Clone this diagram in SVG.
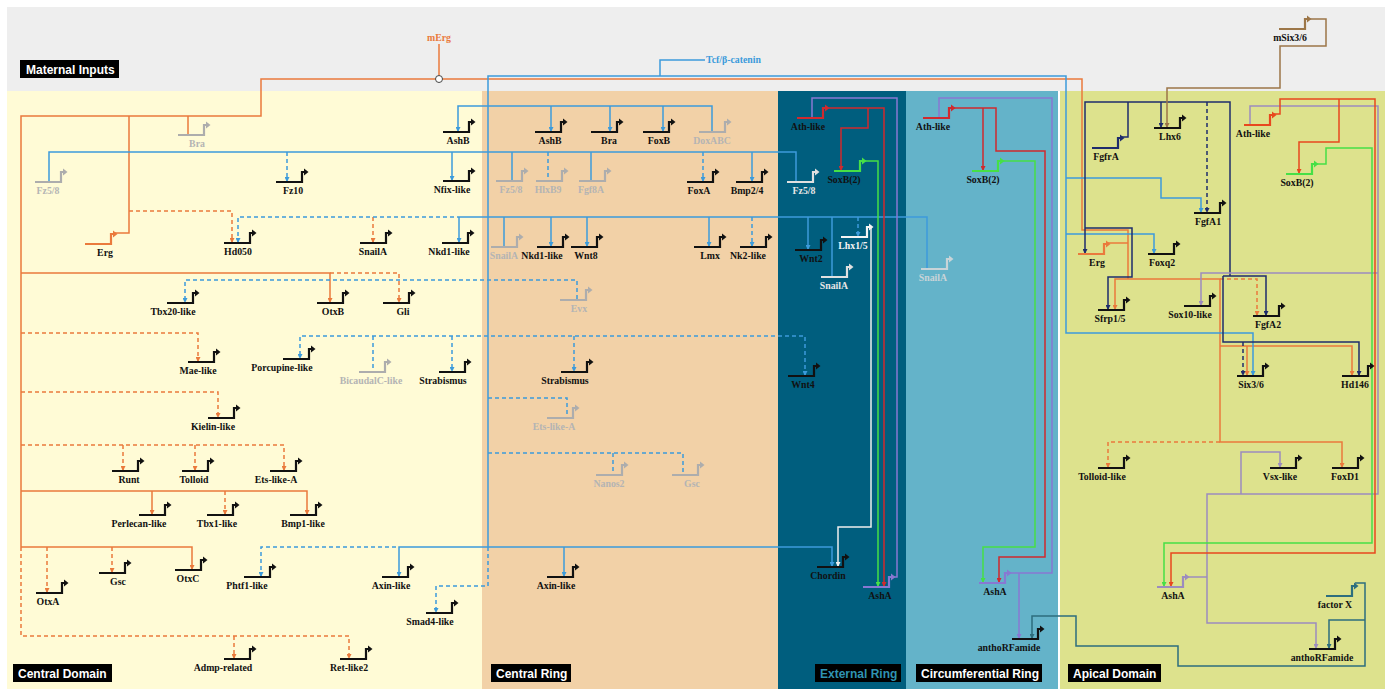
<svg xmlns="http://www.w3.org/2000/svg" xmlns:xlink="http://www.w3.org/1999/xlink" width="1385" height="689" viewBox="0 0 1385 689">
<style>
#connectors path{fill:none;stroke-width:1.5}
.d{stroke-dasharray:4 3}
.o{stroke:#EA7A3C}.b{stroke:#3C9BDB}.n{stroke:#1E2C6C}.br{stroke:#9C7648}.pg{stroke:#9C8CBE}
.ar{stroke:#E8481E}.g{stroke:#46E046}.r{stroke:#D02A2E}.p{stroke:#8878D2}.w{stroke:#EEEEEE}.t{stroke:#2D6E7E}
.lb{font-family:"Liberation Serif",serif;font-weight:bold;font-size:9.8px;text-anchor:middle;fill:#111}
.gl{fill:#B4B4B4}.wl{fill:#E6E6E6}
.box{fill:#000}
.bt{font-family:"Liberation Sans",Arial,sans-serif;font-weight:bold;font-size:12px;fill:#fff}
</style>
<defs>
<g id="pr"><path d="M-26,0H0V-10H2.5" fill="none" stroke="currentColor" stroke-width="2.2"/><path d="M2,-13.5L6.5,-10L2,-6.5Z" fill="currentColor"/></g>
<marker id="mo" viewBox="0 0 6 6" refX="6" refY="3" markerWidth="5" markerHeight="5" markerUnits="userSpaceOnUse" orient="auto-start-reverse"><path d="M0,0L6,3L0,6Z" fill="#EA7A3C"/></marker>
<marker id="mb" viewBox="0 0 6 6" refX="6" refY="3" markerWidth="5" markerHeight="5" markerUnits="userSpaceOnUse" orient="auto-start-reverse"><path d="M0,0L6,3L0,6Z" fill="#3C9BDB"/></marker>
<marker id="mn" viewBox="0 0 6 6" refX="6" refY="3" markerWidth="5" markerHeight="5" markerUnits="userSpaceOnUse" orient="auto-start-reverse"><path d="M0,0L6,3L0,6Z" fill="#1E2C6C"/></marker>
<marker id="mbr" viewBox="0 0 6 6" refX="6" refY="3" markerWidth="5" markerHeight="5" markerUnits="userSpaceOnUse" orient="auto-start-reverse"><path d="M0,0L6,3L0,6Z" fill="#9C7648"/></marker>
<marker id="mpg" viewBox="0 0 6 6" refX="6" refY="3" markerWidth="5" markerHeight="5" markerUnits="userSpaceOnUse" orient="auto-start-reverse"><path d="M0,0L6,3L0,6Z" fill="#9C8CBE"/></marker>
<marker id="mar" viewBox="0 0 6 6" refX="6" refY="3" markerWidth="5" markerHeight="5" markerUnits="userSpaceOnUse" orient="auto-start-reverse"><path d="M0,0L6,3L0,6Z" fill="#E8481E"/></marker>
<marker id="mg" viewBox="0 0 6 6" refX="6" refY="3" markerWidth="5" markerHeight="5" markerUnits="userSpaceOnUse" orient="auto-start-reverse"><path d="M0,0L6,3L0,6Z" fill="#46E046"/></marker>
<marker id="mr" viewBox="0 0 6 6" refX="6" refY="3" markerWidth="5" markerHeight="5" markerUnits="userSpaceOnUse" orient="auto-start-reverse"><path d="M0,0L6,3L0,6Z" fill="#D02A2E"/></marker>
<marker id="mp" viewBox="0 0 6 6" refX="6" refY="3" markerWidth="5" markerHeight="5" markerUnits="userSpaceOnUse" orient="auto-start-reverse"><path d="M0,0L6,3L0,6Z" fill="#8878D2"/></marker>
<marker id="mw" viewBox="0 0 6 6" refX="6" refY="3" markerWidth="5" markerHeight="5" markerUnits="userSpaceOnUse" orient="auto-start-reverse"><path d="M0,0L6,3L0,6Z" fill="#EEEEEE"/></marker>
<marker id="mt" viewBox="0 0 6 6" refX="6" refY="3" markerWidth="5" markerHeight="5" markerUnits="userSpaceOnUse" orient="auto-start-reverse"><path d="M0,0L6,3L0,6Z" fill="#2D6E7E"/></marker>
</defs>

<g id="background">
<rect x="0" y="0" width="1385" height="689" fill="#FFFFFF"/>
<rect x="7" y="7" width="1378" height="84" fill="#EEEEEE"/>
<rect x="7" y="91" width="475" height="598" fill="#FFFBD6"/>
<rect x="482" y="91" width="296" height="598" fill="#F2D1A7"/>
<rect x="778" y="91" width="128" height="598" fill="#005E7E"/>
<rect x="906" y="91" width="152" height="598" fill="#64B3C9"/>
<rect x="1060" y="91" width="325" height="598" fill="#DDE28D"/>
</g>

<g id="region-labels">
<rect class="box" x="20" y="60" width="99" height="18"/><text class="bt" x="26" y="74">Maternal Inputs</text>
<rect class="box" x="13" y="664" width="99" height="18"/><text class="bt" x="18" y="678">Central Domain</text>
<rect class="box" x="491" y="664" width="80" height="18"/><text class="bt" x="496" y="678">Central Ring</text>
<rect class="box" x="815" y="664" width="86" height="18"/><text class="bt" x="820" y="678" style="fill:#2F93B2">External Ring</text>
<rect class="box" x="916" y="664" width="126" height="18"/><text class="bt" x="921" y="678">Circumferential Ring</text>
<rect class="box" x="1068" y="664" width="93" height="18"/><text class="bt" x="1073" y="678">Apical Domain</text>
</g>

<g id="connectors">
<!-- orange -->
<path class="o" d="M439,44V75.5"/>
<path class="o" d="M21,547V116H261V79H1082V230H1128V279"/>
<path class="o" d="M188,116V134"/>
<path class="o" d="M113,233H129V116"/>
<path class="o d" d="M129,211H232V243" marker-end="url(#mo)"/>
<path class="o d" d="M373,217V243" marker-end="url(#mo)"/>
<path class="o" d="M21,273H330V303" marker-end="url(#mo)"/>
<path class="o d" d="M330,273H399V303" marker-end="url(#mo)"/>
<path class="o d" d="M21,333H198V362" marker-end="url(#mo)"/>
<path class="o d" d="M21,392H218V418" marker-end="url(#mo)"/>
<path class="o d" d="M21,445H284V471" marker-end="url(#mo)"/>
<path class="o d" d="M123,445V471" marker-end="url(#mo)"/>
<path class="o d" d="M195,445V471" marker-end="url(#mo)"/>
<path class="o" d="M21,491H307V515" marker-end="url(#mo)"/>
<path class="o" d="M152,491V515" marker-end="url(#mo)"/>
<path class="o d" d="M225,491V515" marker-end="url(#mo)"/>
<path class="o" d="M21,547H192V570" marker-end="url(#mo)"/>
<path class="o d" d="M47,547V593" marker-end="url(#mo)"/>
<path class="o d" d="M112,547V573" marker-end="url(#mo)"/>
<path class="o d" d="M21,547V636H349V659" marker-end="url(#mo)"/>
<path class="o d" d="M234,636V659" marker-end="url(#mo)"/>
<path class="o" d="M1107,243H1128"/>
<path class="o" d="M1128,279H1115V310" marker-end="url(#mo)"/>
<path class="o" d="M1128,279H1220V442H1342V468" marker-end="url(#mo)"/>
<path class="o d" d="M1220,442H1108V468" marker-end="url(#mo)"/>
<path class="o d" d="M1220,279H1257V316" marker-end="url(#mo)"/>
<path class="o" d="M1220,346H1352V376" marker-end="url(#mo)"/>
<path class="o" d="M1247,346V376" marker-end="url(#mo)"/>
<!-- blue -->
<path class="b" d="M705,60H660V76"/>
<path class="b" d="M488,547V76H1066V333H1253V376" marker-end="url(#mb)"/>
<path class="b" d="M1066,178H1161V198H1201V213" marker-end="url(#mb)"/>
<path class="b" d="M1066,234H1154V254" marker-end="url(#mb)"/>
<path class="b" d="M712,131V106H458V132" marker-end="url(#mb)"/>
<path class="b" d="M551,106V132" marker-end="url(#mb)"/>
<path class="b" d="M610,106V132" marker-end="url(#mb)"/>
<path class="b" d="M663,106V132" marker-end="url(#mb)"/>
<path class="b" d="M49,181V152H796V181"/>
<path class="b d" d="M287,152V182" marker-end="url(#mb)"/>
<path class="b" d="M452,152V181" marker-end="url(#mb)"/>
<path class="b" d="M512,152V181"/>
<path class="b d" d="M548,152V181"/>
<path class="b" d="M591,152V181"/>
<path class="b d" d="M703,152V182" marker-end="url(#mb)"/>
<path class="b" d="M752,152V182" marker-end="url(#mb)"/>
<path class="b d" d="M238,243V217H459" marker-start="url(#mb)"/>
<path class="b" d="M459,217H927V268"/>
<path class="b" d="M459,217V243" marker-end="url(#mb)"/>
<path class="b" d="M504,217V246"/>
<path class="b" d="M551,217V247" marker-end="url(#mb)"/>
<path class="b" d="M587,217V247" marker-end="url(#mb)"/>
<path class="b" d="M709,217V247" marker-end="url(#mb)"/>
<path class="b d" d="M752,217V247" marker-end="url(#mb)"/>
<path class="b" d="M808,217V250" marker-end="url(#mb)"/>
<path class="b" d="M832,217V276"/>
<path class="b d" d="M858,217V237" marker-end="url(#mb)"/>
<path class="b d" d="M577,299V280H185V303" marker-end="url(#mb)"/>
<path class="b d" d="M805,376V336H300V359" marker-start="url(#mb)" marker-end="url(#mb)"/>
<path class="b d" d="M373,336V371"/>
<path class="b d" d="M452,336V372" marker-end="url(#mb)"/>
<path class="b d" d="M574,336V372" marker-end="url(#mb)"/>
<path class="b d" d="M488,398H567V417"/>
<path class="b d" d="M488,453H683V474"/>
<path class="b d" d="M613,453V474"/>
<path class="b d" d="M261,577V547H399" marker-start="url(#mb)"/>
<path class="b" d="M399,577V547H832V567" marker-start="url(#mb)" marker-end="url(#mb)"/>
<path class="b" d="M564,547V577" marker-end="url(#mb)"/>
<path class="b d" d="M488,547V586H436V613" marker-end="url(#mb)"/>
<!-- navy -->
<path class="n" d="M1085,254V102H1230V276" marker-start="url(#mn)"/>
<path class="n" d="M1121,137H1128V102"/>
<path class="n" d="M1161,102V128" marker-end="url(#mn)"/>
<path class="n d" d="M1207,102V213" marker-end="url(#mn)"/>
<path class="n" d="M1085,228H1132V277H1108V310" marker-end="url(#mn)"/>
<path class="n" d="M1223,276H1266V316" marker-end="url(#mn)"/>
<path class="n" d="M1223,276V342H1359V376" marker-end="url(#mn)"/>
<path class="n d" d="M1243,342V376" marker-end="url(#mn)"/>
<!-- brown -->
<path class="br" d="M1308,19H1326V46H1280V88H1167V128" marker-end="url(#mbr)"/>
<!-- purple-grey apical -->
<path class="pg" d="M1250,124V106H1378V494H1207V623H1316V649" marker-end="url(#mpg)"/>
<path class="pg" d="M1378,273H1201V306" marker-end="url(#mpg)"/>
<path class="pg" d="M1241,494V452H1280V468" marker-end="url(#mpg)"/>
<path class="pg" d="M1186,577H1207"/>
<!-- apical red -->
<path class="ar" d="M1273,114H1280V99H1375V553H1171V587" marker-end="url(#mar)"/>
<path class="ar" d="M1339,99V142H1299V174" marker-end="url(#mar)"/>
<!-- green -->
<path class="g" d="M1315,164H1326V148H1372V543H1164V587" marker-end="url(#mg)"/>
<path class="g" d="M863,161H878V587" marker-end="url(#mg)"/>
<path class="g" d="M1001,161H1035V547H983V583" marker-end="url(#mg)"/>
<!-- red -->
<path class="r" d="M826,108H884V587" marker-end="url(#mr)"/>
<path class="r" d="M868,108V128H841V171" marker-end="url(#mr)"/>
<path class="r" d="M952,108H996V151H1045V557H999V583" marker-end="url(#mr)"/>
<path class="r" d="M983,108V171" marker-end="url(#mr)"/>
<!-- purple -->
<path class="p" d="M892,577H897V98H812V117"/>
<path class="p" d="M1008,573H1052V98H939V117"/>
<path class="p" d="M1019,573V639" marker-end="url(#mp)"/>
<!-- white -->
<path class="w" d="M870,227H871V527H838V567" marker-end="url(#mw)"/>
<!-- teal -->
<path class="t" d="M1355,583H1365V666H1178V646H1076V616H1032V639" marker-end="url(#mt)"/>
<path class="t" d="M1365,620H1329V649" marker-end="url(#mt)"/>
<circle cx="439" cy="79" r="3.5" fill="#fff" stroke="#444" stroke-width="1"/>
</g>

<g id="maternal">
<text class="lb" x="439" y="41" style="fill:#EA7A3C">mErg</text>
<text class="lb" x="706" y="63" style="fill:#3C9BDB;text-anchor:start">Tcf/β-catenin</text>
<g id="n-mSix36"><use href="#pr" x="1305" y="29" color="#9C7648"/><text class="lb" x="1290" y="41">mSix3/6</text></g>
</g>

<g id="central-domain">
<g id="n-Bra1"><use href="#pr" x="204" y="135" color="#ADADAD"/><text class="lb gl" x="197" y="147">Bra</text></g>
<g id="n-Fz58a"><use href="#pr" x="61" y="182" color="#ADADAD"/><text class="lb gl" x="48" y="194">Fz5/8</text></g>
<g id="n-Fz10"><use href="#pr" x="302" y="182" color="#111"/><text class="lb" x="293" y="194">Fz10</text></g>
<g id="n-AshB1"><use href="#pr" x="469" y="132" color="#111"/><text class="lb" x="458" y="144">AshB</text></g>
<g id="n-Nfix"><use href="#pr" x="469" y="181" color="#111"/><text class="lb" x="452" y="193">Nfix-like</text></g>
<g id="n-Erg1"><use href="#pr" x="111" y="244" color="#EA7A3C"/><text class="lb" x="105" y="256">Erg</text></g>
<g id="n-Hd050"><use href="#pr" x="250" y="243" color="#111"/><text class="lb" x="238" y="255">Hd050</text></g>
<g id="n-SnailA1"><use href="#pr" x="386" y="243" color="#111"/><text class="lb" x="373" y="255">SnailA</text></g>
<g id="n-Nkd1a"><use href="#pr" x="468" y="243" color="#111"/><text class="lb" x="449" y="255">Nkd1-like</text></g>
<g id="n-Tbx20"><use href="#pr" x="193" y="303" color="#111"/><text class="lb" x="173" y="315">Tbx20-like</text></g>
<g id="n-OtxB"><use href="#pr" x="343" y="303" color="#111"/><text class="lb" x="333" y="315">OtxB</text></g>
<g id="n-Gli"><use href="#pr" x="409" y="303" color="#111"/><text class="lb" x="403" y="315">Gli</text></g>
<g id="n-Mae"><use href="#pr" x="214" y="362" color="#111"/><text class="lb" x="198" y="374">Mae-like</text></g>
<g id="n-Porc"><use href="#pr" x="309" y="359" color="#111"/><text class="lb" x="282" y="371">Porcupine-like</text></g>
<g id="n-BicC"><use href="#pr" x="385" y="372" color="#ADADAD"/><text class="lb gl" x="371" y="384">BicaudalC-like</text></g>
<g id="n-Strab1"><use href="#pr" x="465" y="372" color="#111"/><text class="lb" x="443" y="384">Strabismus</text></g>
<g id="n-Kielin"><use href="#pr" x="234" y="418" color="#111"/><text class="lb" x="213" y="430">Kielin-like</text></g>
<g id="n-Runt"><use href="#pr" x="138" y="471" color="#111"/><text class="lb" x="129" y="483">Runt</text></g>
<g id="n-Tolloid"><use href="#pr" x="208" y="471" color="#111"/><text class="lb" x="194" y="483">Tolloid</text></g>
<g id="n-EtsA1"><use href="#pr" x="296" y="471" color="#111"/><text class="lb" x="276" y="483">Ets-like-A</text></g>
<g id="n-Perl"><use href="#pr" x="165" y="515" color="#111"/><text class="lb" x="139" y="527">Perlecan-like</text></g>
<g id="n-Tbx1"><use href="#pr" x="233" y="515" color="#111"/><text class="lb" x="217" y="527">Tbx1-like</text></g>
<g id="n-Bmp1"><use href="#pr" x="316" y="515" color="#111"/><text class="lb" x="303" y="527">Bmp1-like</text></g>
<g id="n-OtxA"><use href="#pr" x="62" y="593" color="#111"/><text class="lb" x="48" y="605">OtxA</text></g>
<g id="n-Gsc1"><use href="#pr" x="125" y="573" color="#111"/><text class="lb" x="118" y="585">Gsc</text></g>
<g id="n-OtxC"><use href="#pr" x="201" y="570" color="#111"/><text class="lb" x="188" y="582">OtxC</text></g>
<g id="n-Phtf1"><use href="#pr" x="270" y="577" color="#111"/><text class="lb" x="247" y="589">Phtf1-like</text></g>
<g id="n-Axin1"><use href="#pr" x="408" y="577" color="#111"/><text class="lb" x="391" y="589">Axin-like</text></g>
<g id="n-Smad4"><use href="#pr" x="452" y="613" color="#111"/><text class="lb" x="430" y="625">Smad4-like</text></g>
<g id="n-Admp"><use href="#pr" x="250" y="659" color="#111"/><text class="lb" x="223" y="671">Admp-related</text></g>
<g id="n-Ret"><use href="#pr" x="366" y="659" color="#111"/><text class="lb" x="349" y="671">Ret-like2</text></g>
</g>

<g id="central-ring">
<g id="n-AshB2"><use href="#pr" x="561" y="132" color="#111"/><text class="lb" x="550" y="144">AshB</text></g>
<g id="n-Bra2"><use href="#pr" x="617" y="132" color="#111"/><text class="lb" x="609" y="144">Bra</text></g>
<g id="n-FoxB"><use href="#pr" x="669" y="132" color="#111"/><text class="lb" x="659" y="144">FoxB</text></g>
<g id="n-DoxABC"><use href="#pr" x="725" y="132" color="#ADADAD"/><text class="lb gl" x="712" y="144">DoxABC</text></g>
<g id="n-Fz58b"><use href="#pr" x="522" y="181" color="#ADADAD"/><text class="lb gl" x="511" y="193">Fz5/8</text></g>
<g id="n-HlxB9"><use href="#pr" x="562" y="181" color="#ADADAD"/><text class="lb gl" x="548" y="193">HlxB9</text></g>
<g id="n-Fgf8A"><use href="#pr" x="605" y="181" color="#ADADAD"/><text class="lb gl" x="591" y="193">Fgf8A</text></g>
<g id="n-FoxA"><use href="#pr" x="713" y="182" color="#111"/><text class="lb" x="699" y="194">FoxA</text></g>
<g id="n-Bmp24"><use href="#pr" x="762" y="182" color="#111"/><text class="lb" x="747" y="194">Bmp2/4</text></g>
<g id="n-SnailA2"><use href="#pr" x="517" y="247" color="#ADADAD"/><text class="lb gl" x="504" y="259">SnailA</text></g>
<g id="n-Nkd1b"><use href="#pr" x="563" y="247" color="#111"/><text class="lb" x="542" y="259">Nkd1-like</text></g>
<g id="n-Wnt8"><use href="#pr" x="597" y="247" color="#111"/><text class="lb" x="586" y="259">Wnt8</text></g>
<g id="n-Lmx"><use href="#pr" x="720" y="247" color="#111"/><text class="lb" x="710" y="259">Lmx</text></g>
<g id="n-Nk2"><use href="#pr" x="766" y="247" color="#111"/><text class="lb" x="748" y="259">Nk2-like</text></g>
<g id="n-Evx"><use href="#pr" x="586" y="300" color="#ADADAD"/><text class="lb gl" x="579" y="312">Evx</text></g>
<g id="n-Strab2"><use href="#pr" x="587" y="372" color="#111"/><text class="lb" x="565" y="384">Strabismus</text></g>
<g id="n-EtsA2"><use href="#pr" x="573" y="418" color="#ADADAD"/><text class="lb gl" x="554" y="430">Ets-like-A</text></g>
<g id="n-Nanos2"><use href="#pr" x="622" y="475" color="#ADADAD"/><text class="lb gl" x="609" y="487">Nanos2</text></g>
<g id="n-Gsc2"><use href="#pr" x="698" y="475" color="#ADADAD"/><text class="lb gl" x="692" y="487">Gsc</text></g>
<g id="n-Axin2"><use href="#pr" x="573" y="577" color="#111"/><text class="lb" x="556" y="589">Axin-like</text></g>
</g>

<g id="external-ring">
<g id="n-Ath1"><use href="#pr" x="823" y="118" color="#D02A2E"/><text class="lb" x="808" y="130">Ath-like</text></g>
<g id="n-SoxB1"><use href="#pr" x="860" y="171" color="#46E046"/><text class="lb" x="844" y="183">SoxB(2)</text></g>
<g id="n-Fz58c"><use href="#pr" x="813" y="182" color="#E0E0E0"/><text class="lb wl" x="804" y="194">Fz5/8</text></g>
<g id="n-Wnt2"><use href="#pr" x="821" y="250" color="#111"/><text class="lb" x="811" y="262">Wnt2</text></g>
<g id="n-Lhx15"><use href="#pr" x="867" y="237" color="#F4F4F4"/><text class="lb" x="853" y="249" style="fill:#F4F4F4">Lhx1/5</text></g>
<g id="n-SnailA3"><use href="#pr" x="847" y="277" color="#E0E0E0"/><text class="lb wl" x="834" y="289">SnailA</text></g>
<g id="n-Wnt4"><use href="#pr" x="814" y="376" color="#111"/><text class="lb" x="803" y="388">Wnt4</text></g>
<g id="n-Chordin"><use href="#pr" x="843" y="567" color="#111"/><text class="lb" x="828" y="579">Chordin</text></g>
<g id="n-AshA1"><use href="#pr" x="889" y="587" color="#8878D2"/><text class="lb" x="880" y="599">AshA</text></g>
</g>

<g id="circumferential-ring">
<g id="n-Ath2"><use href="#pr" x="949" y="118" color="#D02A2E"/><text class="lb" x="933" y="130">Ath-like</text></g>
<g id="n-SoxB2"><use href="#pr" x="998" y="171" color="#46E046"/><text class="lb" x="983" y="183">SoxB(2)</text></g>
<g id="n-SnailA4"><use href="#pr" x="947" y="269" color="#C8D4D8"/><text class="lb" x="933" y="281" style="fill:#C8D4D8">SnailA</text></g>
<g id="n-AshA2"><use href="#pr" x="1005" y="583" color="#8878D2"/><text class="lb" x="995" y="595">AshA</text></g>
<g id="n-anthoRF1"><use href="#pr" x="1038" y="639" color="#111"/><text class="lb" x="1009" y="651">anthoRFamide</text></g>
</g>

<g id="apical-domain">
<g id="n-FgfrA"><use href="#pr" x="1118" y="148" color="#1E2C6C"/><text class="lb" x="1106" y="160">FgfrA</text></g>
<g id="n-Lhx6"><use href="#pr" x="1180" y="128" color="#111"/><text class="lb" x="1170" y="140">Lhx6</text></g>
<g id="n-Ath3"><use href="#pr" x="1270" y="125" color="#E8481E"/><text class="lb" x="1253" y="137">Ath-like</text></g>
<g id="n-SoxB3"><use href="#pr" x="1312" y="174" color="#46E046"/><text class="lb" x="1297" y="186">SoxB(2)</text></g>
<g id="n-FgfA1"><use href="#pr" x="1220" y="213" color="#111"/><text class="lb" x="1208" y="225">FgfA1</text></g>
<g id="n-Erg2"><use href="#pr" x="1104" y="254" color="#EA7A3C"/><text class="lb" x="1097" y="266">Erg</text></g>
<g id="n-Foxq2"><use href="#pr" x="1174" y="254" color="#111"/><text class="lb" x="1162" y="266">Foxq2</text></g>
<g id="n-Sfrp"><use href="#pr" x="1124" y="310" color="#111"/><text class="lb" x="1110" y="322">Sfrp1/5</text></g>
<g id="n-Sox10"><use href="#pr" x="1210" y="306" color="#111"/><text class="lb" x="1190" y="318">Sox10-like</text></g>
<g id="n-FgfA2"><use href="#pr" x="1279" y="316" color="#111"/><text class="lb" x="1268" y="328">FgfA2</text></g>
<g id="n-Six36"><use href="#pr" x="1263" y="376" color="#111"/><text class="lb" x="1251" y="388">Six3/6</text></g>
<g id="n-Hd146"><use href="#pr" x="1368" y="376" color="#111"/><text class="lb" x="1355" y="388">Hd146</text></g>
<g id="n-TollL"><use href="#pr" x="1124" y="468" color="#111"/><text class="lb" x="1102" y="480">Tolloid-like</text></g>
<g id="n-Vsx"><use href="#pr" x="1296" y="468" color="#111"/><text class="lb" x="1280" y="480">Vsx-like</text></g>
<g id="n-FoxD1"><use href="#pr" x="1358" y="468" color="#111"/><text class="lb" x="1345" y="480">FoxD1</text></g>
<g id="n-AshA3"><use href="#pr" x="1183" y="587" color="#9C8CBE"/><text class="lb" x="1173" y="599">AshA</text></g>
<g id="n-factorX"><use href="#pr" x="1352" y="596" color="#2D6E7E"/><text class="lb" x="1335" y="608">factor X</text></g>
<g id="n-anthoRF2"><use href="#pr" x="1335" y="649" color="#111"/><text class="lb" x="1322" y="661">anthoRFamide</text></g>
</g>
</svg>
